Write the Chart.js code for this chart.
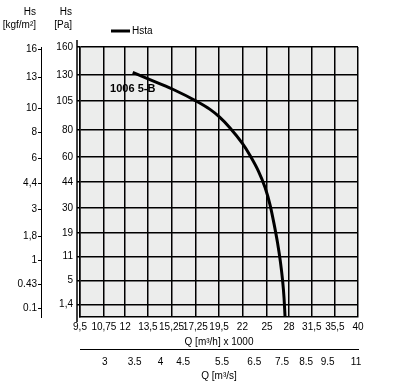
<!DOCTYPE html>
<html>
<head>
<meta charset="utf-8">
<script src="https://cdn.jsdelivr.net/npm/chart.js@4.4.1/dist/chart.umd.min.js"></script>
<style>
  body { margin: 0; background: #fff; }
  canvas { display: block; }
</style>
</head>
<body>
<canvas id="myChart" width="401" height="392"></canvas>
<script>
// axis ticks (Q in m3/h x 1000, Q in m3/s, Hs in Pa and kgf/m2)
const qTicks = [9.5, 10.75, 12, 13.5, 15.25, 17.25, 19.5, 22, 25, 28, 31.5, 35.5, 40]
const qsTicks = [3, 3.5, 4, 4.5, 5.5, 6.5, 7.5, 8.5, 9.5, 11]
const paTicks = [1.4, 5, 11, 19, 30, 44, 60, 80, 105, 130, 160]
const kgfTicks = [0.1, 0.43, 1, 1.8, 3, 4.4, 6, 8, 10, 13, 16]
const kgfLabels = ['0.1', '0.43', '1', '1,8', '3', '4,4', '6', '8', '10', '13', '16']
const qsLabels = ['3', '3.5', '4', '4.5', '5.5', '6.5', '7.5', '8.5', '9.5', '11']

// curve Hsta
const hstaQ = [12.48, 13.55, 15.35, 17.37, 18.61, 19.53, 20.64, 22.0, 22.89, 23.9, 24.74, 25.39, 25.92, 26.39, 26.78, 27.08, 27.29, 27.43]
const hstaPa = [132.6, 125.9, 115.9, 104.6, 97.4, 90.9, 81.8, 69.8, 61.1, 50.7, 40.8, 31.4, 22.6, 15.3, 9.44, 5.09, 2.11, 0.38]
const curveName = '1006 5-B'
const curveLabelAt = [11.1, 116]

const paMin = 0.38, paMax = 160
const PA_PER_KGF = 9.81
const M3H_PER_M3S = 3.6   // thousands of m3/h in one m3/s

const fontFam = "'Liberation Sans Narrow', 'Liberation Sans', Arial, sans-serif"
Chart.defaults.font.family = fontFam
Chart.defaults.font.size = 10
Chart.defaults.color = '#000'

// square-root scale, pressure grows with the square of flow
class SqrtScale extends Chart.Scale {
  determineDataLimits() {
    this.min = this.options.min
    this.max = this.options.max
  }
  buildTicks() {
    return []
  }
  configure() {
    super.configure()
    this._s0 = Math.sqrt(this.min)
    this._sr = Math.sqrt(this.max) - this._s0
  }
  getPixelForValue(v) {
    return this.getPixelForDecimal((Math.sqrt(v) - this._s0) / this._sr)
  }
  getValueForPixel(p) {
    const s = this._s0 + this.getDecimalForPixel(p) * this._sr
    return s * s
  }
  getLabelForValue(v) {
    return String(v)
  }
}
SqrtScale.id = 'sqrt'
SqrtScale.defaults = {}
Chart.register(SqrtScale)

const comma = v => String(v).replace('.', ',')

const extras = {
  id: 'extras',
  beforeDraw(chart) {
    const {ctx, chartArea: a} = chart
    ctx.save()
    ctx.fillStyle = '#ecedec'
    ctx.fillRect(a.left, a.top, a.right - a.left, a.bottom - a.top)
    ctx.restore()
  },
  afterDraw(chart) {
    const {ctx, chartArea: a, scales} = chart
    ctx.save()
    ctx.strokeStyle = '#000'
    ctx.lineWidth = 1.5
    ctx.beginPath()
    ctx.moveTo(a.left - 3, a.top - 7)
    ctx.lineTo(a.left - 3, a.bottom + 5)
    ctx.stroke()

    ctx.fillStyle = '#000'
    ctx.font = '10px ' + fontFam
    ctx.textAlign = 'right'
    ctx.textBaseline = 'middle'
    ctx.fillText('Hs', 36, 12)
    ctx.fillText('[kgf/m²]', 36, 25)
    ctx.fillText('Hs', 72, 12)
    ctx.fillText('[Pa]', 72, 25)

    // legend
    ctx.lineWidth = 3
    ctx.beginPath()
    ctx.moveTo(111, 31)
    ctx.lineTo(130, 31)
    ctx.stroke()
    ctx.textAlign = 'left'
    ctx.fillText(chart.data.datasets[0].label, 132, 31)

    ctx.font = 'bold 11px ' + fontFam
    ctx.fillText(curveName, scales.x.getPixelForValue(curveLabelAt[0]), scales.y.getPixelForValue(curveLabelAt[1]))
    ctx.restore()
  }
}

const ctx = document.getElementById('myChart').getContext('2d')
new Chart(ctx, {
  type: 'line',
  data: {
    datasets: [{
      label: 'Hsta',
      data: hstaQ.map((q, i) => ({x: q, y: hstaPa[i]})),
      xAxisID: 'x',
      yAxisID: 'y',
      borderColor: '#000',
      borderWidth: 3,
      pointRadius: 0,
      cubicInterpolationMode: 'monotone'
    }]
  },
  options: {
    responsive: false,
    animation: false,
    layout: { padding: { left: 0, right: 43, top: 47, bottom: 7 } },
    plugins: { legend: { display: false }, tooltip: { enabled: false } },
    scales: {
      x: {
        type: 'logarithmic',
        position: 'bottom',
        weight: 0,
        min: 9.5,
        max: 40,
        afterBuildTicks: s => { s.ticks = qTicks.map(v => ({value: v})) },
        afterFit: s => { s.height = 32 },
        grid: { color: '#000', lineWidth: 1.5, drawTicks: false },
        border: { color: '#000', width: 1.5 },
        ticks: { autoSkip: false, maxRotation: 0, padding: 4, callback: v => comma(v) },
        title: { display: true, text: 'Q [m³/h] x 1000', padding: { top: 0, bottom: 1 } }
      },
      xs: {
        type: 'logarithmic',
        position: 'bottom',
        weight: 1,
        min: qTicks[0] / M3H_PER_M3S,
        max: qTicks[qTicks.length - 1] / M3H_PER_M3S,
        afterBuildTicks: s => { s.ticks = qsTicks.map(v => ({value: v})) },
        afterFit: s => { s.height = 36 },
        grid: { display: false, drawTicks: false },
        border: { color: '#000', width: 1 },
        ticks: { autoSkip: false, maxRotation: 0, padding: 7, callback: (v, i) => qsLabels[i] },
        title: { display: true, text: 'Q [m³/s]', padding: { top: 0, bottom: 3 } }
      },
      y: {
        type: 'sqrt',
        position: 'left',
        weight: 0,
        min: paMin,
        max: paMax,
        afterBuildTicks: s => { s.ticks = paTicks.map(v => ({value: v})) },
        afterFit: s => { s.width = 39 },
        grid: { color: '#000', lineWidth: 1.5, tickLength: 3 },
        border: { color: '#000', width: 1.5 },
        ticks: { autoSkip: false, padding: 4, callback: v => comma(v) }
      },
      kgf: {
        type: 'sqrt',
        position: 'left',
        weight: 1,
        min: paMin / PA_PER_KGF,
        max: paMax / PA_PER_KGF,
        afterBuildTicks: s => { s.ticks = kgfTicks.map(v => ({value: v})) },
        afterFit: s => { s.width = 41 },
        grid: { color: '#000', lineWidth: 1, drawOnChartArea: false, tickLength: 3 },
        border: { color: '#000', width: 1 },
        ticks: { autoSkip: false, padding: 1, callback: (v, i) => kgfLabels[i] }
      }
    }
  },
  plugins: [extras]
})
</script>
</body>
</html>
